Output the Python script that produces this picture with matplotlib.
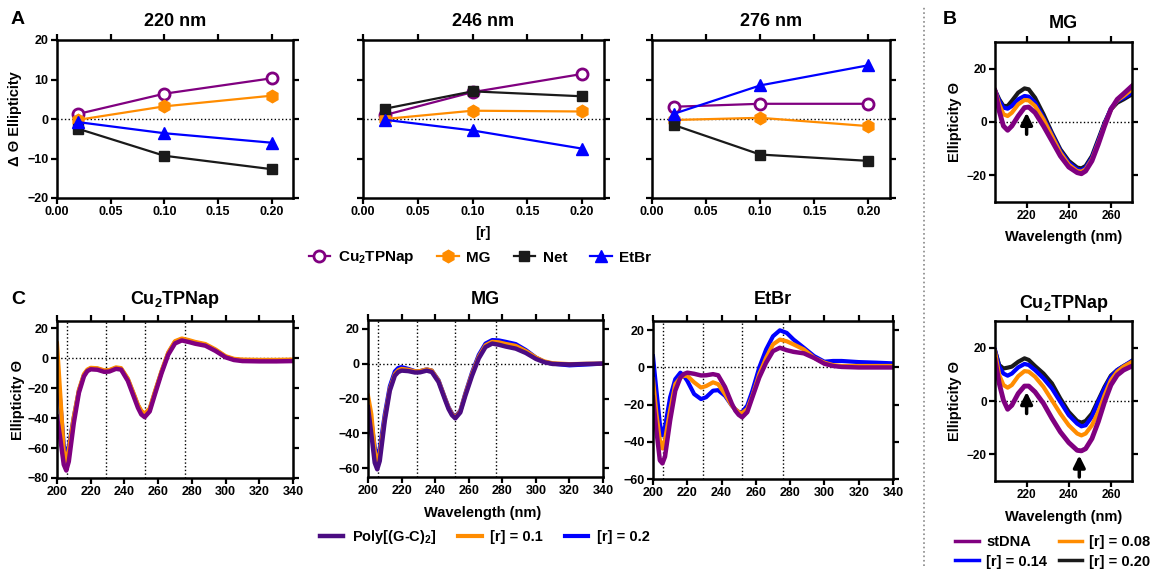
import matplotlib
matplotlib.use('Agg')
import matplotlib.pyplot as plt
from matplotlib.lines import Line2D

plt.rcParams['font.family'] = ['Liberation Sans', 'DejaVu Sans']
plt.rcParams['font.weight'] = 'bold'
plt.rcParams['axes.labelweight'] = 'bold'
plt.rcParams['mathtext.fontset'] = 'custom'
plt.rcParams['mathtext.rm'] = 'Liberation Sans:bold'
plt.rcParams['mathtext.default'] = 'rm'

W, H = 1156, 572

# ---- panel A data ----
r_vals = [0.02, 0.10, 0.20]
a_titles = ['220 nm', '246 nm', '276 nm']
cu_a = [[1.3, 6.4, 10.3], [1.0, 6.8, 11.4], [3.1, 3.85, 3.85]]
mg_a = [[-0.2, 3.2, 5.9], [0.0, 2.1, 1.9], [-0.25, 0.3, -1.8]]
net_a = [[-2.5, -9.3, -12.7], [2.6, 7.0, 5.75], [-1.5, -9.0, -10.6]]
etbr_a = [[-0.8, -3.6, -6.0], [-0.2, -2.9, -7.5], [1.3, 8.5, 13.6]]

# ---- panel B data ----
wl_b = [205, 207, 209, 211, 213, 216, 219, 221, 224, 228, 232, 236, 240, 244, 246, 248, 251, 254, 257, 260, 263, 266, 270]
mg_st = [11.6, 4.1, -1.5, -3.1, -1.5, 2.25, 5.4, 5.6, 3.5, -1.5, -7.1, -12.75, -16.9, -19.0, -19.4, -18.4, -14.6, -8.4, -1.5, 4.75, 8.5, 10.6, 13.5]
mg_08 = [11.9, 6.6, 2.9, 2.25, 3.5, 6.6, 8.25, 8.1, 6.0, 1.0, -5.25, -11.5, -16.0, -18.4, -18.6, -17.75, -14.0, -7.75, -1.1, 4.75, 8.1, 9.75, 12.25]
mg_14 = [11.9, 7.9, 5.4, 5.0, 6.0, 8.5, 9.75, 9.5, 7.25, 1.6, -4.6, -10.9, -15.25, -17.75, -18.1, -17.1, -13.4, -7.1, -0.6, 5.1, 7.9, 9.1, 11.0]
mg_20 = [11.9, 8.5, 6.0, 6.0, 7.9, 11.0, 12.6, 12.25, 9.1, 2.9, -4.0, -10.25, -14.6, -17.1, -17.4, -16.5, -12.75, -6.5, -0.25, 4.75, 7.25, 8.5, 10.4]
cu_st = [15.4, 6.6, 0.3, -3.1, -1.6, 2.8, 5.6, 5.6, 3.4, -0.9, -6.5, -11.6, -15.6, -18.5, -18.7, -17.9, -14.1, -7.8, -0.3, 6.0, 9.7, 11.6, 13.1]
cu_08 = [18.5, 9.7, 6.0, 5.0, 6.0, 9.3, 11.2, 11.0, 9.1, 5.3, 0.3, -4.7, -9.1, -12.2, -12.9, -12.2, -9.1, -4.1, 2.2, 7.8, 11.0, 12.9, 14.7]
cu_14 = [19.1, 12.9, 10.3, 9.5, 10.3, 12.6, 13.9, 13.5, 11.6, 8.5, 4.7, -0.3, -5.3, -8.5, -9.5, -9.1, -5.9, -0.3, 4.7, 9.1, 11.6, 13.1, 15.1]
cu_20 = [18.9, 13.5, 12.2, 12.5, 12.9, 14.7, 16.0, 15.4, 13.1, 10.3, 6.6, 0.9, -4.1, -7.5, -8.1, -7.5, -4.7, 0.3, 5.3, 9.5, 11.6, 13.1, 14.7]
b_labels = ['stDNA', '[r] = 0.08', '[r] = 0.14', '[r] = 0.20']

# ---- panel C data ----
wl_c = [200, 202, 204, 205.5, 207, 210, 213, 216, 218, 220, 224, 228, 231, 235, 238, 242, 246, 248, 250, 252,
        255, 258, 262, 266, 270, 274, 278, 282, 288, 294, 300, 305, 310, 320, 330, 340]
c1_poly = [-39, -54, -71, -75, -69, -43, -23, -12, -8.5, -7.3, -7.6, -9, -8.8, -7, -7.5, -15, -27, -33, -37.5, -39.3,
           -35.5, -24.4, -10, 2.5, 10, 12, 11, 9.8, 8.5, 5, 0.7, -1.1, -1.8, -2, -2, -1.8]
c1_r1 = [10, -25, -62, -69, -61, -39, -21, -10.5, -7.5, -6.3, -6.6, -8, -7.8, -6, -6.5, -13.5, -25, -31, -35, -37,
         -33.5, -22.5, -8.5, 4, 11.5, 13.3, 12.3, 11, 9.6, 6, 1.5, -0.3, -0.8, -1, -1, -0.8]
c1_r2 = [-2, -30, -58, -64, -59, -39, -21.5, -11, -8, -6.8, -7, -8.4, -8.2, -6.5, -7, -14, -25.5, -31.5, -35.5, -37.5,
         -34, -23, -9, 3.5, 11, 12.8, 11.8, 10.5, 9.1, 5.5, 1.1, -0.7, -1.3, -1.5, -1.5, -1.3]
c2_poly = [-25, -40.5, -56.8, -60.6, -55.8, -32.8, -15.5, -6.9, -4.8, -4, -4.3, -5.1, -5, -4, -4.8, -10.5, -21, -26, -29.5, -31.4,
           -28, -18.4, -6.9, 3, 9.5, 11.5, 10.8, 9.8, 8.6, 6.1, 2.7, 0.8, -0.2, -0.5, -0.2, 0]
c2_r1 = [-18.4, -29, -50, -55.8, -52, -31, -14.5, -6, -3.8, -3, -3.5, -4.4, -4.3, -3.3, -4, -9.8, -20.3, -25.3, -28.8, -30.8,
         -27.3, -17.5, -5.8, 4, 10.5, 12.5, 12.2, 11.3, 10.2, 7.2, 3.5, 1.3, 0.2, -0.3, -0.1, 0]
c2_r2 = [-25, -33, -48, -53, -49, -29, -13, -4.5, -2.5, -2, -3, -4.3, -4.3, -3.3, -4, -9.5, -20, -25, -28.5, -30.5,
         -27, -17, -5, 5, 11.5, 13.5, 13.3, 12.5, 11.2, 7.8, 3.5, 1, 0, -1, -0.5, 0]
c3_poly = [-16, -34, -50, -51.6, -48, -28.5, -12.5, -5.4, -3.5, -2.8, -3.4, -4.3, -4.2, -3.6, -4.2, -10.5, -19.5, -23.2, -25.5, -26.8,
           -24, -16, -5.4, 2.6, 8.8, 10.6, 9.3, 8.4, 7.6, 5.1, 2, 0.8, 0.3, 0, 0, 0]
c3_r1 = [-6.3, -25, -39, -43.6, -39, -23, -9, -5.4, -4.5, -4.5, -8, -10.8, -10, -8, -9, -14.3, -20.5, -22.5, -24, -24.6,
         -22.3, -15.2, -3.6, 5.2, 12.4, 15, 14.1, 12.4, 9.7, 5.2, 2.6, 1.3, 0.8, 0.8, 0.8, 0.8]
c3_r2 = [6, -12.5, -30.3, -36.5, -32, -16, -6.3, -2.8, -4.5, -7.2, -14.3, -17, -16, -12.5, -12.2, -15.2, -20.5, -22.5, -24, -24,
         -20.5, -12.5, 0, 9.7, 16.8, 20, 18.6, 15, 10.6, 6.1, 3.1, 3.5, 3.5, 2.9, 2.6, 2.2]
c_marks = [206, 229, 252, 276]
c_labels = ['Poly[(G-C)$_2$]', '[r] = 0.1', '[r] = 0.2']

PURPLE = '#800080'
INDIGO = '#4B0C82'
ORANGE = '#FF8C00'
BLUE = '#0000FF'
BLACK = '#1a1a1a'


def box(l, t, r, b):
    return [l / W, 1 - b / H, (r - l) / W, (b - t) / H]


def style(ax, tsize=9):
    for s in ax.spines.values():
        s.set_linewidth(1.8)
    ax.tick_params(direction='out', length=4, width=1.6, top=True, right=True,
                   labelsize=tsize, pad=2)


def ftext(x, y, s, **kw):
    fig.text(x / W, 1 - y / H, s, ha='center', va='center', fontweight='bold', **kw)


fig = plt.figure(figsize=(W / 100, H / 100), dpi=100)

# ---- A ----
a_boxes = [(57, 40, 293, 198), (363, 40, 604, 198), (652, 40, 890, 198)]
handles = None
for i, bx in enumerate(a_boxes):
    ax = fig.add_axes(box(*bx))
    style(ax)
    ax.axhline(0, color='k', ls=':', lw=1, zorder=1)
    h1, = ax.plot(r_vals, cu_a[i], '-o', color=PURPLE, mfc='white', mec=PURPLE, mew=2, ms=8, lw=1.6, label='Cu$_2$TPNap')
    h2, = ax.plot(r_vals, mg_a[i], '-h', color=ORANGE, ms=9, lw=1.6, label='MG')
    h3, = ax.plot(r_vals, net_a[i], '-s', color=BLACK, ms=7, lw=1.6, label='Net')
    h4, = ax.plot(r_vals, etbr_a[i], '-^', color=BLUE, ms=8, lw=1.6, label='EtBr')
    handles = [h1, h2, h3, h4]
    ax.set_xlim(0, 0.22)
    ax.set_ylim(-20, 20)
    ax.set_xticks([0, 0.05, 0.10, 0.15, 0.20])
    ax.set_xticklabels(['0.00', '0.05', '0.10', '0.15', '0.20'])
    ax.set_yticks([-20, -10, 0, 10, 20])
    if i == 0:
        ax.set_ylabel('Δ Θ Ellipticity', fontsize=10.5, labelpad=4)
    else:
        ax.set_yticklabels([])
    ftext((bx[0] + bx[2]) / 2, 22, a_titles[i], fontsize=13)

ftext(483, 233, '[r]', fontsize=10.5)
fig.legend(handles=handles, loc='center', bbox_to_anchor=(480 / W, 1 - 258 / H), ncol=4,
           frameon=False, fontsize=11, handlelength=1.4, columnspacing=1.5, handletextpad=0.5)

# ---- B ----
b_sets = [('MG', (995, 42, 1132, 202), [mg_st, mg_08, mg_14, mg_20], 23, 237, [(220, -4.6, 3.5)]),
          ('Cu$_2$TPNap', (995, 321, 1132, 481), [cu_st, cu_08, cu_14, cu_20], 303, 517,
           [(220, -4.7, 3.4), (245, -28.5, -20.4)])]
b_colors = [PURPLE, ORANGE, BLUE, BLACK]
for title, bx, series, ty, ly, arrows in b_sets:
    ax = fig.add_axes(box(*bx))
    style(ax, 8.5)
    ax.axhline(0, color='k', ls=':', lw=1, zorder=1)
    for k in [3, 2, 1, 0]:
        ax.plot(wl_b, series[k], color=b_colors[k], lw=3.5 if k == 0 else 3)
    ax.set_xlim(205, 270)
    ax.set_ylim(-30, 30)
    ax.set_xticks([220, 240, 260])
    ax.set_yticks([-20, 0, 20])
    ax.set_ylabel('Ellipticity Θ', fontsize=10.5, labelpad=3)
    for x, y0, y1 in arrows:
        ax.annotate('', xy=(x, y1), xytext=(x, y0),
                    arrowprops=dict(arrowstyle='-|>,head_width=0.35,head_length=0.7', lw=2.5,
                                    color='k', shrinkA=0, shrinkB=0))
    ftext((bx[0] + bx[2]) / 2, ty, title, fontsize=13)
    ftext((bx[0] + bx[2]) / 2, ly, 'Wavelength (nm)', fontsize=10.5)

b_handles = [Line2D([], [], color=c, lw=2.5) for c in b_colors]
fig.legend(handles=[b_handles[0], b_handles[2], b_handles[1], b_handles[3]],
           labels=[b_labels[0], b_labels[2], b_labels[1], b_labels[3]], loc='center',
           bbox_to_anchor=(1053 / W, 1 - 552 / H), ncol=2, frameon=False, fontsize=10.5,
           handlelength=1.6, columnspacing=0.8, handletextpad=0.5, labelspacing=0.35)

# ---- C ----
c_sets = [('Cu$_2$TPNap', (57, 321, 293, 478), [c1_poly, c1_r1, c1_r2], (-80, 25), [-80, -60, -40, -20, 0, 20], PURPLE),
          ('MG', (368, 320, 603, 477), [c2_poly, c2_r1, c2_r2], (-65, 25), [-60, -40, -20, 0, 20], INDIGO),
          ('EtBr', (653, 321, 893, 479), [c3_poly, c3_r1, c3_r2], (-60, 25), [-60, -40, -20, 0, 20], PURPLE)]
ch = []
for j, (title, bx, series, ylim, yt, pcol) in enumerate(c_sets):
    ax = fig.add_axes(box(*bx))
    style(ax)
    ax.axhline(0, color='k', ls=':', lw=1, zorder=1)
    for m in c_marks:
        ax.axvline(m, color='k', ls=':', lw=1, zorder=1)
    hb, = ax.plot(wl_c, series[2], color=BLUE, lw=3)
    ho, = ax.plot(wl_c, series[1], color=ORANGE, lw=3)
    hp, = ax.plot(wl_c, series[0], color=pcol, lw=3.2)
    if j == 1:
        ch = [hp, ho, hb]
    ax.set_xlim(200, 340)
    ax.set_ylim(*ylim)
    ax.set_xticks(range(200, 341, 20))
    ax.set_yticks(yt)
    if j == 0:
        ax.set_ylabel('Ellipticity Θ', fontsize=10.5, labelpad=2)
    ftext((bx[0] + bx[2]) / 2, 300, title, fontsize=13)

ftext(483, 513, 'Wavelength (nm)', fontsize=10.5)
fig.legend(handles=ch, labels=c_labels, loc='center', bbox_to_anchor=(485 / W, 1 - 537 / H), ncol=3,
           frameon=False, fontsize=10.5, handlelength=1.6, columnspacing=1.5, handletextpad=0.6)

# panel letters and separator
for letter, x, y in [('A', 18, 20), ('B', 950, 20), ('C', 18, 299)]:
    ftext(x, y, letter, fontsize=14)
fig.add_artist(Line2D([924 / W, 924 / W], [0.01, 0.99], color='#888888', ls=':', lw=1.2))

fig.savefig('out.png', dpi=100)
